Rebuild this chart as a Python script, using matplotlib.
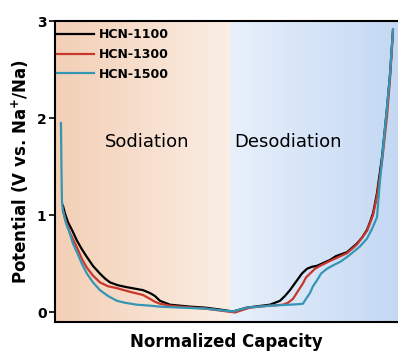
import numpy as np
import matplotlib
matplotlib.use("Agg")
from matplotlib import pyplot as plt

# normalized capacity (0-100) and potential (V) for each sample
x_1100 = [2.33, 2.92, 3.79, 4.96, 6.41, 7.87, 9.33, 11.08, 13.12, 14.58, 16.03, 18.37, 20.99, 23.32,
          25.66, 27.70, 29.15, 30.61, 32.07, 33.53, 36.44, 39.36, 43.73, 48.10, 51.90,
          55.98, 62.68, 65.60, 67.06, 68.51, 70.55, 71.98, 73.47, 74.93, 76.38, 80.17, 81.92,
          85.13, 88.05, 89.50, 90.96, 91.84, 92.71, 93.29, 93.88, 95.34, 96.79, 97.67, 98.54]
v_1100 = [1.10, 1.02, 0.93, 0.85, 0.74, 0.65, 0.57, 0.48, 0.40, 0.35, 0.31, 0.28, 0.26, 0.245,
          0.23, 0.20, 0.17, 0.12, 0.10, 0.08, 0.07, 0.06, 0.05, 0.03, 0.01,
          0.05, 0.08, 0.12, 0.17, 0.23, 0.33, 0.40, 0.45, 0.47, 0.48, 0.54, 0.58,
          0.62, 0.71, 0.77, 0.85, 0.93, 1.02, 1.12, 1.23, 1.60, 2.10, 2.45, 2.91]

x_1300 = [2.33, 2.92, 4.37, 6.41, 7.87, 9.33, 11.08, 13.12, 15.45, 18.08, 22.16, 25.66, 27.70,
          29.15, 30.61, 33.53, 36.44, 43.73, 52.48,
          56.85, 62.68, 66.47, 67.93, 69.39, 70.84, 72.30, 73.18, 74.34, 75.80, 77.26, 80.17,
          85.13, 88.05, 90.96, 92.71, 93.88, 95.34, 96.79, 97.67, 98.54]
v_1300 = [1.05, 0.97, 0.82, 0.67, 0.55, 0.46, 0.38, 0.31, 0.27, 0.25, 0.21, 0.18, 0.14,
          0.11, 0.09, 0.07, 0.06, 0.04, 0.00,
          0.05, 0.07, 0.08, 0.10, 0.14, 0.22, 0.30, 0.36, 0.40, 0.45, 0.48, 0.53,
          0.61, 0.70, 0.84, 1.00, 1.20, 1.55, 2.02, 2.40, 2.88]

x_1500 = [1.75, 1.90, 2.04, 2.33, 3.21, 4.37, 5.25, 6.41, 7.87, 9.33, 11.08, 13.12, 15.45, 18.08,
          20.41, 23.91, 27.70, 30.61, 36.44, 43.73, 51.90,
          55.98, 62.68, 68.51, 70.84, 72.30, 73.18, 74.34, 75.22, 76.38, 77.55, 79.30, 81.34,
          83.09, 85.13, 86.88, 88.92, 90.96, 92.42, 93.88, 94.75, 96.21, 97.67, 98.54]
v_1500 = [1.95, 1.50, 1.15, 1.05, 0.92, 0.81, 0.71, 0.62, 0.50, 0.40, 0.31, 0.23, 0.17, 0.12,
          0.10, 0.08, 0.07, 0.06, 0.05, 0.04, 0.01,
          0.05, 0.07, 0.08, 0.085, 0.09, 0.14, 0.20, 0.27, 0.33, 0.40, 0.45, 0.49,
          0.52, 0.57, 0.62, 0.68, 0.76, 0.86, 0.98, 1.36, 1.90, 2.45, 2.91]

labels = ["HCN-1100", "HCN-1300", "HCN-1500"]
colors = ["#000000", "#c8372b", "#3596b4"]

fig = plt.figure(figsize=(3.98, 3.56), dpi=100)
ax = fig.add_axes([0.138, 0.095, 0.862, 0.846])

# two-tone gradient background: sodiation (peach) | desodiation (blue)
split = 0.51
n = 400
cols = np.zeros((1, n, 3))
for i, f in enumerate(np.linspace(0, 1, n)):
    if f < split:
        t = f / split
        c0, c1 = np.array([243, 207, 182]), np.array([251, 238, 228])
    else:
        t = (f - split) / (1 - split)
        c0, c1 = np.array([232, 240, 251]), np.array([196, 216, 243])
    cols[0, i] = (c0 + (c1 - c0) * t) / 255
ax.imshow(cols, extent=[0, 1, 0, 1], transform=ax.transAxes, aspect="auto", zorder=0)

for xs, vs, lab, c in zip([x_1100, x_1300, x_1500], [v_1100, v_1300, v_1500], labels, colors):
    ax.plot(xs, vs, color=c, lw=1.6, label=lab, zorder=2)

ax.set_xlim(0, 100)
ax.set_ylim(-0.1, 3)
ax.set_xticks([])
ax.set_yticks([0, 1, 2, 3])
ax.set_yticklabels(["0", "1", "2", "3"], fontweight="bold", fontsize=10)
ax.tick_params(axis="y", direction="out", length=4, width=1.2, pad=2)
for s in ["left", "bottom", "top"]:
    ax.spines[s].set_linewidth(1.5)
ax.spines["right"].set_visible(False)

ax.text(27, 1.75, "Sodiation", fontsize=13, ha="center", va="center")
ax.text(68, 1.75, "Desodiation", fontsize=13, ha="center", va="center")

ax.set_ylabel("Potential (V vs. Na$^{\\mathbf{+}}$/Na)", fontsize=12, fontweight="bold", labelpad=4)
ax.set_xlabel("Normalized Capacity", fontsize=12, fontweight="bold", labelpad=8)

leg = ax.legend(loc="upper left", bbox_to_anchor=(0.0, 0.985), frameon=False,
                handlelength=2.95, handletextpad=0.4, labelspacing=0.55,
                borderaxespad=0, borderpad=0.2, prop={"weight": "bold", "size": 9})

fig.savefig("out.png", dpi=100)
